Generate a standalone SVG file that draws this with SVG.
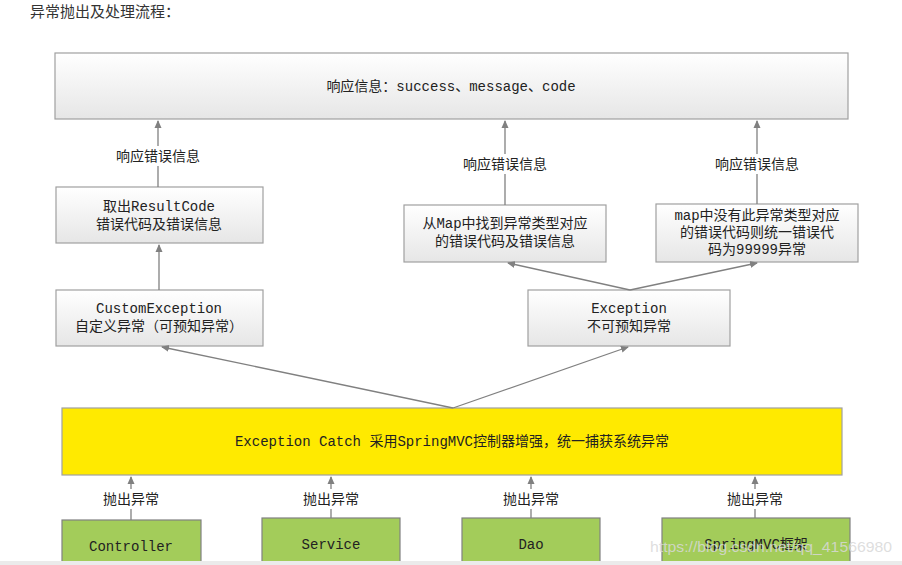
<svg xmlns="http://www.w3.org/2000/svg" width="902" height="565" viewBox="0 0 902 565">
<defs>
<linearGradient id="g" x1="0" y1="0" x2="0" y2="1"><stop offset="0" stop-color="#ffffff"/><stop offset="1" stop-color="#e6e6e6"/></linearGradient>
<marker id="a" markerWidth="8" markerHeight="8" refX="7" refY="4" orient="auto" markerUnits="userSpaceOnUse"><path d="M0,0.5 L8,4 L0,7.5 z" fill="#808080"/></marker>
<style>
.b{fill:url(#g);stroke:#a0a0a0;stroke-width:1.2}
.y{fill:#ffea00;stroke:#a0a0a0;stroke-width:1.2}
.gr{fill:#a3cc5a;stroke:#808080;stroke-width:1.2}
.t{font-family:"Liberation Mono","Noto Sans CJK SC",monospace;font-size:14px;fill:#222;text-anchor:middle}
.c line{stroke:#808080;stroke-width:1.3;marker-end:url(#a)}
</style>
</defs>
<rect width="902" height="565" fill="#fff"/>
<text x="30" y="17" font-family="Noto Sans CJK SC,sans-serif" font-size="15" fill="#333">异常抛出及处理流程：</text>
<g id="resp"><rect class="b" x="55" y="53" width="793" height="66"/><text class="t" x="451" y="91">响应信息：success、message、code</text></g>
<g id="n1"><rect class="b" x="56" y="187" width="207" height="56"/><text class="t" x="159" y="211">取出ResultCode</text><text class="t" x="159" y="229">错误代码及错误信息</text></g>
<g id="n2"><rect class="b" x="404" y="205" width="202" height="57"/><text class="t" x="505" y="228">从Map中找到异常类型对应</text><text class="t" x="505" y="246">的错误代码及错误信息</text></g>
<g id="n3"><rect class="b" x="656" y="204" width="202" height="58"/><text class="t" x="757" y="220">map中没有此异常类型对应</text><text class="t" x="757" y="237">的错误代码则统一错误代</text><text class="t" x="757" y="254">码为99999异常</text></g>
<g id="n4"><rect class="b" x="56" y="290" width="207" height="56"/><text class="t" x="159" y="313">CustomException</text><text class="t" x="159" y="331">自定义异常（可预知异常）</text></g>
<g id="n5"><rect class="b" x="528" y="290" width="202" height="56"/><text class="t" x="629" y="313">Exception</text><text class="t" x="629" y="331">不可预知异常</text></g>
<g id="catch"><rect class="y" x="62" y="408" width="780" height="67"/><text class="t" x="452" y="446">Exception Catch 采用SpringMVC控制器增强，统一捕获系统异常</text></g>
<g id="b1"><rect class="gr" x="62" y="520" width="139" height="50"/><text class="t" x="131" y="551">Controller</text></g>
<g id="b2"><rect class="gr" x="262" y="518" width="138" height="50"/><text class="t" x="331" y="549">Service</text></g>
<g id="b3"><rect class="gr" x="462" y="518" width="138" height="50"/><text class="t" x="531" y="549">Dao</text></g>
<g id="b4"><rect class="gr" x="662" y="518" width="188" height="50"/><text class="t" x="756" y="549">SpringMVC框架</text></g>
<g class="c" id="connectors">
<line x1="158" y1="187" x2="158" y2="121"/>
<line x1="505" y1="205" x2="505" y2="121"/>
<line x1="757" y1="204" x2="757" y2="121"/>
<line x1="159" y1="290" x2="159" y2="245"/>
<line x1="630" y1="290" x2="508" y2="263"/>
<line x1="630" y1="290" x2="757" y2="263"/>
<line x1="453" y1="408" x2="162" y2="347"/>
<line x1="453" y1="408" x2="628" y2="347"/>
<line x1="131" y1="520" x2="131" y2="477"/>
<line x1="331" y1="518" x2="331" y2="477"/>
<line x1="531" y1="518" x2="531" y2="477"/>
<line x1="755" y1="518" x2="755" y2="477"/>
</g>
<g font-family="Noto Sans CJK SC,sans-serif" font-size="14" fill="#222" text-anchor="middle">
<rect x="106" y="146" width="104" height="20" fill="#fff"/><text x="158" y="161">响应错误信息</text>
<rect x="453" y="154" width="104" height="20" fill="#fff"/><text x="505" y="169">响应错误信息</text>
<rect x="705" y="154" width="104" height="20" fill="#fff"/><text x="757" y="169">响应错误信息</text>
<rect x="101" y="489" width="60" height="20" fill="#fff"/><text x="131" y="504">抛出异常</text>
<rect x="301" y="489" width="60" height="20" fill="#fff"/><text x="331" y="504">抛出异常</text>
<rect x="501" y="489" width="60" height="20" fill="#fff"/><text x="531" y="504">抛出异常</text>
<rect x="725" y="489" width="60" height="20" fill="#fff"/><text x="755" y="504">抛出异常</text>
</g>
<text x="650" y="552" textLength="242" lengthAdjust="spacingAndGlyphs" font-family="Liberation Sans,sans-serif" font-size="15" fill="#d8d8d8" fill-opacity="0.85">https://blog.csdn.net/qq_41566980</text>
<rect x="0" y="561" width="902" height="4" fill="#ebebeb"/>
</svg>
